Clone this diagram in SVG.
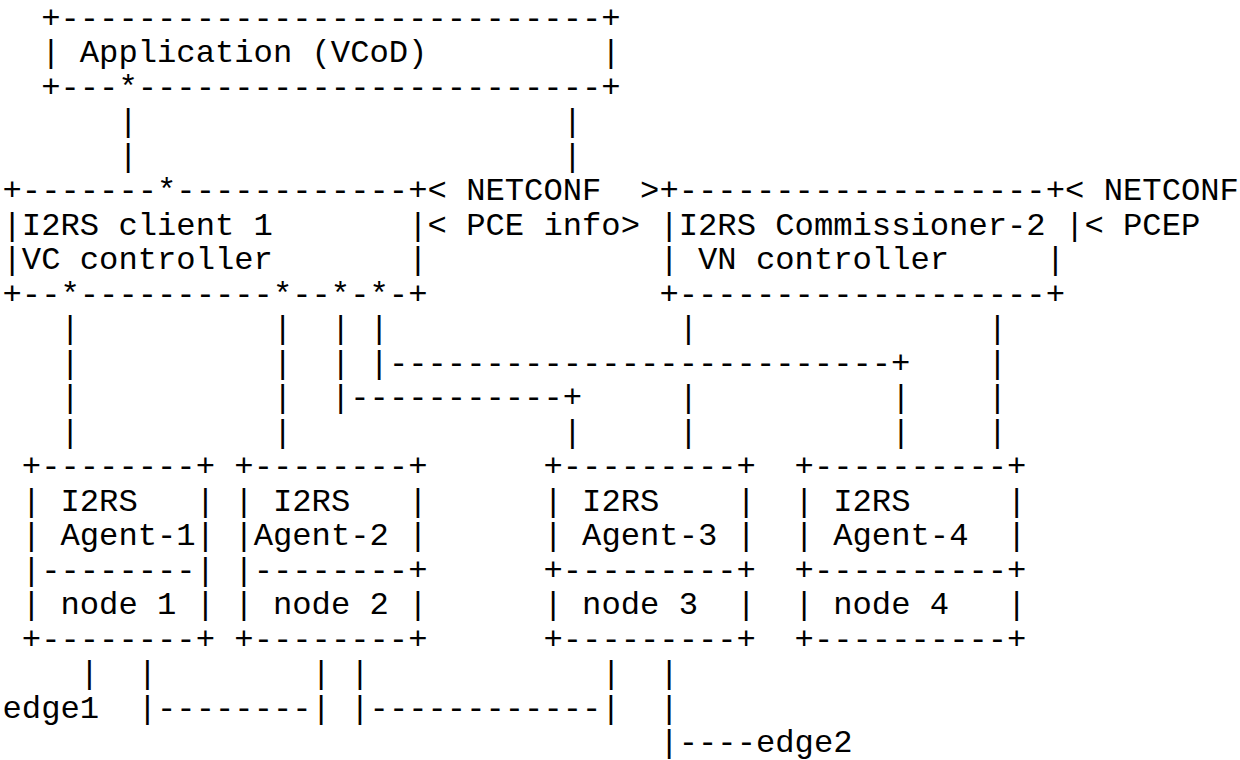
<svg xmlns="http://www.w3.org/2000/svg" width="1240" height="760" viewBox="0 0 1240 760" xml:space="preserve">
<style>
text { font-family: "Liberation Mono", "Courier New", monospace; font-size: 32.2px; fill: #000; white-space: pre; }
</style>
<rect x="0" y="0" width="1240" height="760" fill="#fff"/>
<g id="node-application">
<text x="41.14" y="27.5">+----------------------------+</text>
<text x="41.14" y="62">| Application (VCoD)         |</text>
<text x="41.14" y="96.5">+---*------------------------+</text>
</g>
<g id="node-i2rs-client-1">
<text x="2.5" y="200">+-------*------------+</text>
<text x="2.5" y="234.5">|I2RS client 1       |</text>
<text x="2.5" y="269">|VC controller       |</text>
<text x="2.5" y="303.5">+--*----------*--*-*-+</text>
</g>
<g id="node-i2rs-commissioner-2">
<text x="659.38" y="200">+-------------------+</text>
<text x="659.38" y="234.5">|I2RS Commissioner-2 |</text>
<text x="659.38" y="269">| VN controller     |</text>
<text x="659.38" y="303.5">+-------------------+</text>
</g>
<g id="node-agent-1">
<text x="21.82" y="476">+--------+</text>
<text x="21.82" y="510.5">| I2RS   |</text>
<text x="21.82" y="545">| Agent-1|</text>
<text x="21.82" y="579.5">|--------|</text>
<text x="21.82" y="614">| node 1 |</text>
<text x="21.82" y="648.5">+--------+</text>
</g>
<g id="node-agent-2">
<text x="234.34" y="476">+--------+</text>
<text x="234.34" y="510.5">| I2RS   |</text>
<text x="234.34" y="545">|Agent-2 |</text>
<text x="234.34" y="579.5">|--------+</text>
<text x="234.34" y="614">| node 2 |</text>
<text x="234.34" y="648.5">+--------+</text>
</g>
<g id="node-agent-3">
<text x="543.46" y="476">+---------+</text>
<text x="543.46" y="510.5">| I2RS    |</text>
<text x="543.46" y="545">| Agent-3 |</text>
<text x="543.46" y="579.5">+---------+</text>
<text x="543.46" y="614">| node 3  |</text>
<text x="543.46" y="648.5">+---------+</text>
</g>
<g id="node-agent-4">
<text x="794.62" y="476">+----------+</text>
<text x="794.62" y="510.5">| I2RS     |</text>
<text x="794.62" y="545">| Agent-4  |</text>
<text x="794.62" y="579.5">+----------+</text>
<text x="794.62" y="614">| node 4   |</text>
<text x="794.62" y="648.5">+----------+</text>
</g>
<g id="connectors">
<text x="118.42" y="131">|</text>
<text x="562.78" y="131">|</text>
<text x="118.42" y="165.5">|</text>
<text x="562.78" y="165.5">|</text>
<text x="427.54" y="200">&lt; NETCONF  &gt;</text>
<text x="427.54" y="234.5">&lt; PCE info&gt;</text>
<text x="1065.1" y="200">&lt; NETCONF</text>
<text x="1084.42" y="234.5">&lt; PCEP</text>
<text x="60.46" y="338">|</text>
<text x="272.98" y="338">|</text>
<text x="330.94" y="338">|</text>
<text x="369.58" y="338">|</text>
<text x="678.7" y="338">|</text>
<text x="987.82" y="338">|</text>
<text x="60.46" y="372.5">|</text>
<text x="272.98" y="372.5">|</text>
<text x="330.94" y="372.5">|</text>
<text x="369.58" y="372.5">|--------------------------+</text>
<text x="987.82" y="372.5">|</text>
<text x="60.46" y="407">|</text>
<text x="272.98" y="407">|</text>
<text x="330.94" y="407">|-----------+</text>
<text x="678.7" y="407">|</text>
<text x="891.22" y="407">|</text>
<text x="987.82" y="407">|</text>
<text x="60.46" y="441.5">|</text>
<text x="272.98" y="441.5">|</text>
<text x="562.78" y="441.5">|</text>
<text x="678.7" y="441.5">|</text>
<text x="891.22" y="441.5">|</text>
<text x="987.82" y="441.5">|</text>
<text x="79.78" y="683">|</text>
<text x="137.74" y="683">|</text>
<text x="311.62" y="683">|</text>
<text x="350.26" y="683">|</text>
<text x="601.42" y="683">|</text>
<text x="659.38" y="683">|</text>
<text x="2.5" y="717.5">edge1</text>
<text x="137.74" y="717.5">|--------|</text>
<text x="350.26" y="717.5">|------------|</text>
<text x="659.38" y="717.5">|</text>
<text x="659.38" y="752">|----edge2</text>
</g>
</svg>
